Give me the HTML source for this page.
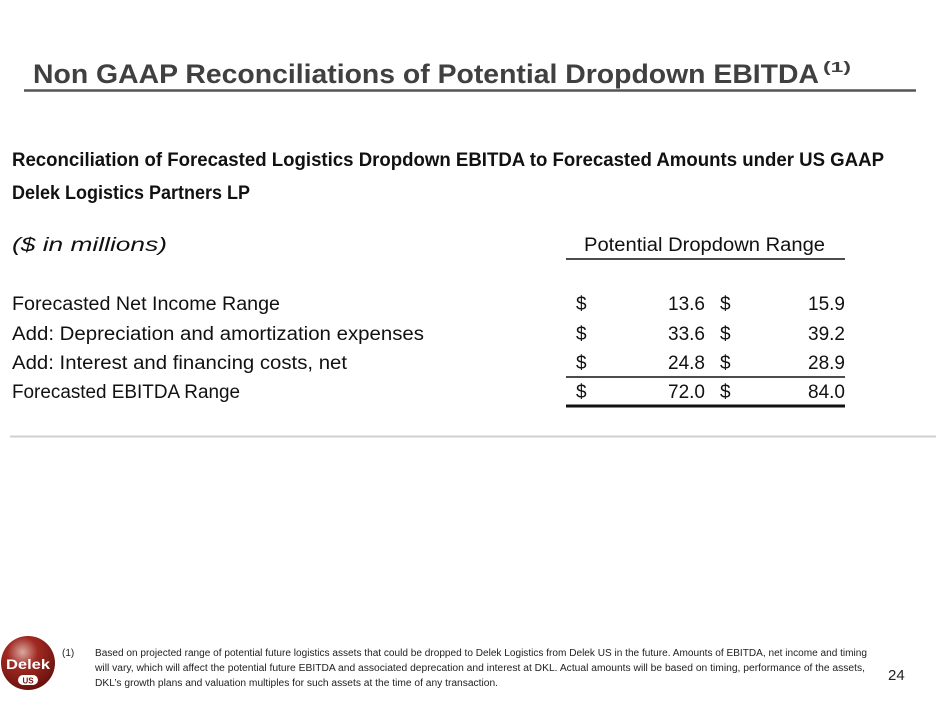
<!DOCTYPE html>
<html><head><meta charset="utf-8"><style>
html,body{margin:0;padding:0;background:#fff;}
svg{display:block;}
text{font-family:"Liberation Sans",sans-serif;}
</style></head><body>
<svg width="940" height="705" viewBox="0 0 940 705">
<defs>
<radialGradient id="lg" cx="0.4" cy="0.3" r="0.8">
<stop offset="0" stop-color="#d9a9a0"/><stop offset="0.35" stop-color="#a02a22"/><stop offset="1" stop-color="#5e0c0a"/>
</radialGradient>
</defs>
<g>
<text x="33" y="83" font-size="27" font-weight="bold" fill="#404040" textLength="786" lengthAdjust="spacingAndGlyphs">Non GAAP Reconciliations of Potential Dropdown EBITDA</text>
<text x="823" y="72" font-size="15" font-weight="bold" fill="#404040" textLength="28" lengthAdjust="spacingAndGlyphs">(1)</text>
</g>
<line x1="24" y1="90.5" x2="916" y2="90.5" stroke="#555" stroke-width="2.5"/>

<text x="12" y="166" font-size="19" font-weight="bold" fill="#111" textLength="872" lengthAdjust="spacingAndGlyphs">Reconciliation of Forecasted Logistics Dropdown EBITDA to Forecasted Amounts under US GAAP</text>
<text x="12" y="199" font-size="19" font-weight="bold" fill="#111" textLength="238" lengthAdjust="spacingAndGlyphs">Delek Logistics Partners LP</text>
<text x="12" y="251" font-size="19" font-style="italic" fill="#111" textLength="155" lengthAdjust="spacingAndGlyphs">($ in millions)</text>
<text x="584" y="251" font-size="19" fill="#111" textLength="241" lengthAdjust="spacingAndGlyphs">Potential Dropdown Range</text>
<line x1="566" y1="259" x2="845" y2="259" stroke="#111" stroke-width="1.5"/>

<g font-size="19" fill="#111">
<g>
<text x="12" y="310" textLength="268" lengthAdjust="spacingAndGlyphs">Forecasted Net Income Range</text>
<text x="576" y="310">$</text><text x="705" y="310" text-anchor="end">13.6</text>
<text x="720" y="310">$</text><text x="845" y="310" text-anchor="end">15.9</text>
</g>
<g>
<text x="12" y="340" textLength="412" lengthAdjust="spacingAndGlyphs">Add: Depreciation and amortization expenses</text>
<text x="576" y="340">$</text><text x="705" y="340" text-anchor="end">33.6</text>
<text x="720" y="340">$</text><text x="845" y="340" text-anchor="end">39.2</text>
</g>
<g>
<text x="12" y="369" textLength="335" lengthAdjust="spacingAndGlyphs">Add: Interest and financing costs, net</text>
<text x="576" y="369">$</text><text x="705" y="369" text-anchor="end">24.8</text>
<text x="720" y="369">$</text><text x="845" y="369" text-anchor="end">28.9</text>
</g>
<g>
<text x="12" y="398" textLength="228" lengthAdjust="spacingAndGlyphs">Forecasted EBITDA Range</text>
<text x="576" y="398">$</text><text x="705" y="398" text-anchor="end">72.0</text>
<text x="720" y="398">$</text><text x="845" y="398" text-anchor="end">84.0</text>
</g>
</g>
<line x1="566" y1="377" x2="845" y2="377" stroke="#111" stroke-width="1.5"/>
<line x1="566" y1="406" x2="845" y2="406" stroke="#111" stroke-width="3"/>
<line x1="10" y1="436.5" x2="936" y2="436.5" stroke="#d0d0d0" stroke-width="2"/>

<g>
<circle cx="28" cy="663" r="27" fill="url(#lg)"/>
<text x="28" y="669" font-size="14" font-weight="bold" fill="#fff" text-anchor="middle" textLength="44" lengthAdjust="spacingAndGlyphs">Delek</text>
<rect x="18" y="675" width="20" height="10" rx="5" fill="#fff"/>
<text x="28" y="683.5" font-size="8" font-weight="bold" fill="#7a1410" text-anchor="middle">US</text>
</g>
<g font-size="10" fill="#222">
<text x="62" y="656">(1)</text>
<text x="95" y="656" textLength="772" lengthAdjust="spacingAndGlyphs">Based on projected range of potential future logistics assets that could be dropped to Delek Logistics from Delek US in the future. Amounts of EBITDA, net income and timing</text>
<text x="95" y="671" textLength="770" lengthAdjust="spacingAndGlyphs">will vary, which will affect the potential future EBITDA and associated deprecation and interest at DKL. Actual amounts will be based on timing, performance of the assets,</text>
<text x="95" y="686" textLength="403" lengthAdjust="spacingAndGlyphs">DKL’s growth plans and valuation multiples for such assets at the time of any transaction.</text>
</g>
<text x="888" y="680" font-size="15" fill="#222">24</text>
</svg>
</body></html>
